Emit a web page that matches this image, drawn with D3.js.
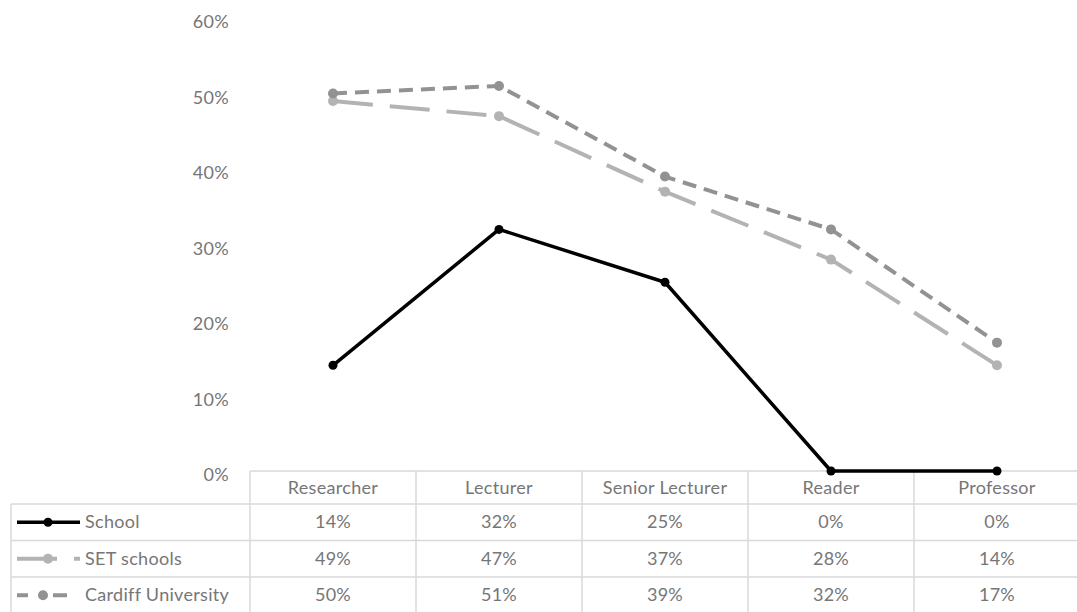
<!DOCTYPE html>
<html>
<head>
<meta charset="utf-8">
<script src="https://cdn.jsdelivr.net/npm/d3@7"></script>
<style>
  html, body { margin: 0; padding: 0; background: #fff; }
  svg { display: block; }
  text { font-family: Lato, "Open Sans", sans-serif; fill: #767676; letter-spacing: 0.3px; }
</style>
</head>
<body>
<svg id="chart" width="1077" height="612"></svg>
<script>
// Share of women by grade
const categories = ["Researcher", "Lecturer", "Senior Lecturer", "Reader", "Professor"];
const seriesNames = ["School", "SET schools", "Cardiff University"];
const schoolValues = [0.14, 0.32, 0.25, 0.00, 0.00];
const setSchoolValues = [0.49, 0.47, 0.37, 0.28, 0.14];
const cardiffValues = [0.50, 0.51, 0.39, 0.32, 0.17];
const yTicks = [0, 0.1, 0.2, 0.3, 0.4, 0.5, 0.6];

const series = [
  { name: seriesNames[0], values: schoolValues, color: "#000000", width: 3.5, dash: null, r: 4.5 },
  { name: seriesNames[1], values: setSchoolValues, color: "#b3b3b3", width: 4, dash: "40,17", r: 5 },
  { name: seriesNames[2], values: cardiffValues, color: "#929292", width: 4, dash: "14,8", r: 5 }
];

const fontSize = "18px";
const svg = d3.select("#chart");
const colW = 166;
const x = d3.scaleBand().domain(categories).range([250, 250 + colW * categories.length]);
const y = d3.scaleLinear().domain([0, 0.6]).range([471, 18]);
const fmt = d3.format(".0%");

// y axis labels (no axis line or gridlines)
const yAxis = d3.axisLeft(y).tickValues(yTicks).tickFormat(fmt).tickSize(0).tickPadding(0);
const yg = svg.append("g").attr("transform", "translate(229,4)").call(yAxis);
yg.select(".domain").remove();
yg.selectAll("text").style("font-size", fontSize).attr("fill", "#767676")
  .style("font-family", "Lato, 'Open Sans', sans-serif");

// data table
const tableTop = 471, headerH = 33, rowH = 36.5, legendLeft = 11, right = 1077;
const grid = svg.append("g").attr("stroke", "#d9d9d9").attr("stroke-width", 1.5).attr("fill", "none");
grid.append("line").attr("x1", x.range()[0]).attr("x2", right).attr("y1", tableTop).attr("y2", tableTop);
for (let i = 0; i <= seriesNames.length; i++) {
  const yy = tableTop + headerH + i * rowH;
  grid.append("line").attr("x1", legendLeft).attr("x2", right).attr("y1", yy).attr("y2", yy);
}
grid.append("line").attr("x1", legendLeft).attr("x2", legendLeft)
  .attr("y1", tableTop + headerH).attr("y2", 612);
categories.forEach(c => {
  grid.append("line").attr("x1", x(c)).attr("x2", x(c)).attr("y1", tableTop).attr("y2", 612);
});

// header labels
svg.append("g").selectAll("text").data(categories).join("text")
  .attr("x", d => x(d) + x.bandwidth() / 2)
  .attr("y", tableTop + headerH / 2 + 6)
  .attr("text-anchor", "middle")
  .style("font-size", fontSize)
  .text(d => d);

// value rows with legend keys
series.forEach((s, i) => {
  const cy = tableTop + headerH + i * rowH + rowH / 2;
  const row = svg.append("g");
  row.selectAll("text.val").data(s.values).join("text")
    .attr("class", "val")
    .attr("x", (d, j) => x(categories[j]) + x.bandwidth() / 2)
    .attr("y", cy + 6)
    .attr("text-anchor", "middle")
    .style("font-size", fontSize)
    .text(d => fmt(d));
  row.append("text").attr("x", 85).attr("y", cy + 6).style("font-size", fontSize).text(s.name);
  const key = row.append("g");
  const keyLine = key.append("line").attr("x1", 17).attr("x2", 80).attr("y1", cy).attr("y2", cy)
    .attr("stroke", s.color).attr("stroke-width", s.width);
  if (s.dash) keyLine.attr("stroke-dasharray", s.dash);
  if (i === 2) keyLine.attr("stroke-dasharray", "11,13,0,12,14,20");
  key.append("circle").attr("cx", i === 2 ? 43 : 48).attr("cy", cy).attr("r", s.r).attr("fill", s.color);
});

// series lines and markers
const line = d3.line().x((d, j) => x(categories[j]) + x.bandwidth() / 2).y(d => y(d));
series.forEach(s => {
  const g = svg.append("g");
  const p = g.append("path").datum(s.values).attr("d", line)
    .attr("fill", "none").attr("stroke", s.color).attr("stroke-width", s.width)
    .attr("stroke-linejoin", "round");
  if (s.dash) p.attr("stroke-dasharray", s.dash);
  g.selectAll("circle").data(s.values).join("circle")
    .attr("cx", (d, j) => x(categories[j]) + x.bandwidth() / 2)
    .attr("cy", d => y(d))
    .attr("r", s.r)
    .attr("fill", s.color);
});
</script>
</body>
</html>
